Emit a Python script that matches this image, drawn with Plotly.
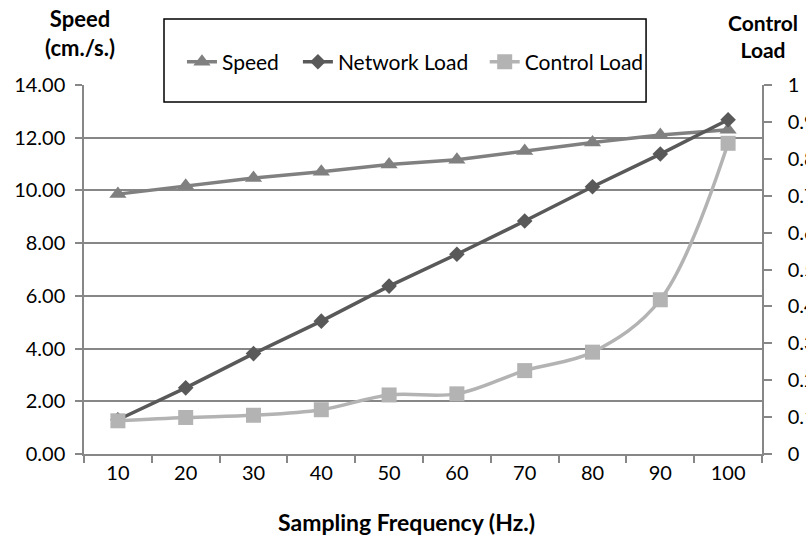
import plotly.graph_objects as go

freq = ["10", "20", "30", "40", "50", "60", "70", "80", "90", "100"]
speed = [9.86, 10.18, 10.47, 10.71, 10.98, 11.16, 11.50, 11.82, 12.10, 12.30]
network_load = [1.30, 2.51, 3.81, 5.04, 6.37, 7.58, 8.84, 10.14, 11.38, 12.68]
control_load = [0.090, 0.099, 0.105, 0.120, 0.160, 0.163, 0.226, 0.276, 0.418, 0.842]

left_ticks = [0, 2, 4, 6, 8, 10, 12, 14]
right_ticks = [0, 0.1, 0.2, 0.3, 0.4, 0.5, 0.6, 0.7, 0.8, 0.9, 1]

FONT = "Lato"
GRID = "#878787"

fig = go.Figure()
fig.add_trace(go.Scatter(
    x=freq, y=speed, name="Speed", mode="lines+markers", legend="legend",
    line=dict(color="#808080", width=3.5),
    marker=dict(symbol="triangle-up", size=15, color="#808080"),
))
fig.add_trace(go.Scatter(
    x=freq, y=network_load, name="Network Load", mode="lines+markers",
    legend="legend2",
    line=dict(color="#595959", width=3.5),
    marker=dict(symbol="diamond", size=12, color="#595959"),
))
fig.add_trace(go.Scatter(
    x=freq, y=control_load, name="Control Load", mode="lines+markers",
    yaxis="y2", legend="legend3",
    line=dict(color="#b3b3b3", width=3.5, shape="spline", smoothing=1),
    marker=dict(symbol="square", size=15, color="#b3b3b3"),
))

def leg(x):
    return dict(
        orientation="h", x=x, xanchor="left", y=1.062, yanchor="middle",
        bgcolor="rgba(0,0,0,0)", borderwidth=0,
        font=dict(family=FONT, size=21, color="black"),
        itemsizing="trace",
    )

fig.update_layout(
    width=806, height=535,
    margin=dict(l=84, r=44, t=85, b=81, autoexpand=False),
    paper_bgcolor="white", plot_bgcolor="white",
    font=dict(family=FONT, size=20, color="black"),
    showlegend=True,
    legend=leg(0.1445),
    legend2=leg(0.3155),
    legend3=leg(0.591),
    xaxis=dict(
        type="category", tickson="boundaries", automargin=False,
        showline=True, linecolor=GRID, linewidth=1.5,
        ticks="outside", ticklen=7, tickcolor=GRID, tickwidth=1.5,
        showgrid=False, zeroline=False,
        tickfont=dict(family=FONT, size=20),
        range=[-0.5, 9.5],
    ),
    yaxis=dict(
        range=[0, 14], tickvals=left_ticks, tickformat=".2f", automargin=False,
        showline=True, linecolor=GRID, linewidth=1.5,
        ticks="outside", ticklen=7, tickcolor=GRID, tickwidth=1.5,
        showgrid=True, gridcolor=GRID, gridwidth=1.5, zeroline=False,
        tickfont=dict(family=FONT, size=20),
        ticklabelstandoff=6,
    ),
    yaxis2=dict(
        range=[0, 1], tickvals=right_ticks, overlaying="y", side="right",
        automargin=False,
        showline=True, linecolor=GRID, linewidth=1.5,
        ticks="outside", ticklen=8, tickcolor=GRID, tickwidth=1.5,
        showgrid=False, zeroline=False,
        tickfont=dict(family=FONT, size=20),
        ticklabelstandoff=12,
    ),
    shapes=[dict(
        type="rect", xref="paper", yref="paper",
        x0=0.118, x1=0.829, y0=0.954, y1=1.179,
        line=dict(color="black", width=1.5), fillcolor="white", layer="above",
    )],
    annotations=[
        dict(text="<b>Speed<br>(cm./s.)</b>", xref="paper", yref="paper",
             x=-0.006, y=1.14, xanchor="center", yanchor="middle",
             showarrow=False, font=dict(family=FONT, size=22), align="center"),
        dict(text="<b>Control<br>Load</b>", xref="paper", yref="paper",
             x=1.002, y=1.133, xanchor="center", yanchor="middle",
             showarrow=False, font=dict(family=FONT, size=21), align="center"),
        dict(text="<b>Sampling Frequency (Hz.)</b>", xref="paper", yref="paper",
             x=0.476, y=-0.184, xanchor="center", yanchor="middle",
             showarrow=False, font=dict(family=FONT, size=23)),
    ],
)

fig.write_html("out.html")
